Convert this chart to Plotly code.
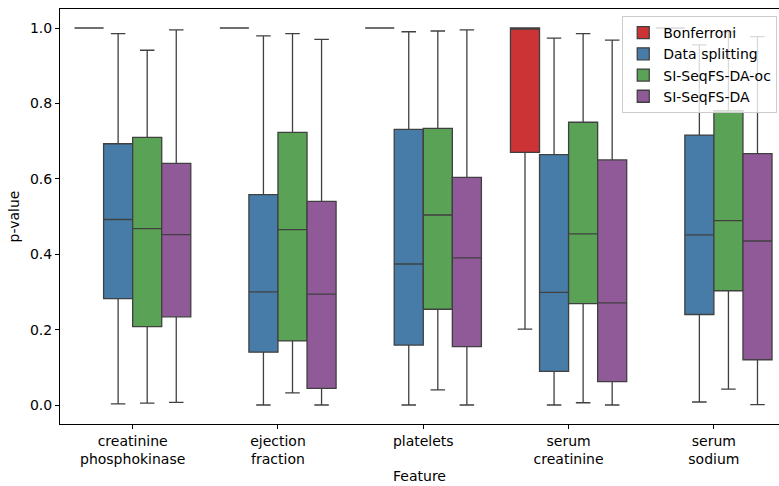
import plotly.graph_objects as go

# Features on the x axis
features = ["creatinine phosphokinase", "ejection fraction", "platelets",
            "serum creatinine", "serum sodium"]
tick_text = ["creatinine<br>phosphokinase", "ejection<br>fraction", "platelets",
             "serum<br>creatinine", "serum<br>sodium"]

methods = ["Bonferroni", "Data splitting", "SI-SeqFS-DA-oc", "SI-SeqFS-DA"]

# Box summaries of p-values per method (one value per feature)
bonf_low = [1.0, 1.0, 1.0, 0.201, 1.0]
bonf_q1 = [1.0, 1.0, 1.0, 0.670, 1.0]
bonf_med = [1.0, 1.0, 1.0, 1.0, 1.0]
bonf_q3 = [1.0, 1.0, 1.0, 1.0, 1.0]
bonf_high = [1.0, 1.0, 1.0, 1.0, 1.0]

ds_low = [0.003, 0.000, 0.000, 0.000, 0.008]
ds_q1 = [0.282, 0.140, 0.159, 0.089, 0.240]
ds_med = [0.492, 0.300, 0.374, 0.299, 0.451]
ds_q3 = [0.693, 0.558, 0.731, 0.664, 0.716]
ds_high = [0.985, 0.979, 0.990, 0.973, 0.955]

oc_low = [0.005, 0.032, 0.040, 0.006, 0.042]
oc_q1 = [0.208, 0.170, 0.254, 0.269, 0.303]
oc_med = [0.468, 0.465, 0.504, 0.454, 0.489]
oc_q3 = [0.710, 0.723, 0.734, 0.750, 0.781]
oc_high = [0.941, 0.985, 0.992, 0.985, 0.990]

da_low = [0.007, 0.000, 0.000, 0.000, 0.001]
da_q1 = [0.234, 0.044, 0.155, 0.062, 0.120]
da_med = [0.452, 0.294, 0.390, 0.271, 0.435]
da_q3 = [0.641, 0.540, 0.604, 0.650, 0.667]
da_high = [0.995, 0.970, 0.995, 0.968, 0.977]

colors = ["#cb3335", "#477ca8", "#59a256", "#905998"]
stats = [
    (bonf_low, bonf_q1, bonf_med, bonf_q3, bonf_high),
    (ds_low, ds_q1, ds_med, ds_q3, ds_high),
    (oc_low, oc_q1, oc_med, oc_q3, oc_high),
    (da_low, da_q1, da_med, da_q3, da_high),
]

fig = go.Figure()
for name, color, (lo, q1, med, q3, hi) in zip(methods, colors, stats):
    fig.add_trace(go.Box(
        name=name,
        x=features,
        lowerfence=lo, q1=q1, median=med, q3=q3, upperfence=hi,
        fillcolor=color,
        line=dict(color="#404040", width=1.3),
        whiskerwidth=0.5,
        boxpoints=False,
    ))

font = dict(family="DejaVu Sans", size=14, color="#000000")

fig.update_layout(
    width=779, height=486,
    margin=dict(l=60, r=0, t=9, b=62),
    paper_bgcolor="white", plot_bgcolor="white",
    boxmode="group", boxgap=0.2, boxgroupgap=0,
    font=font,
    showlegend=True,
    legend=dict(
        x=0.782, y=0.983, xanchor="left", yanchor="top",
        bgcolor="rgba(255,255,255,0.8)", bordercolor="#cccccc", borderwidth=1,
        font=font,
        tracegroupgap=0,
    ),
    xaxis=dict(
        type="category",
        categoryorder="array", categoryarray=features,
        tickvals=features, ticktext=tick_text,
        range=[-0.5, 4.448],
        showline=True, linecolor="black", linewidth=1, mirror=True,
        ticks="outside", ticklen=4, tickcolor="black",
        showgrid=False, zeroline=False,
        title=dict(text="Feature", font=font, standoff=5),
        tickfont=font,
    ),
    yaxis=dict(
        range=[-0.0504, 1.0504],
        tickvals=[0.0, 0.2, 0.4, 0.6, 0.8, 1.0], tickformat=".1f",
        showline=True, linecolor="black", linewidth=1,
        ticks="outside", ticklen=4, tickcolor="black",
        showgrid=False, zeroline=False,
        title=dict(text="p-value", font=font, standoff=7),
        tickfont=font,
    ),
)

fig.write_html("out.html")
